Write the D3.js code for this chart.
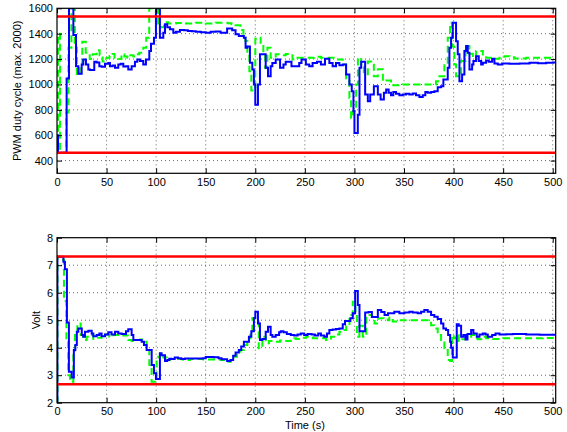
<!DOCTYPE html>
<html>
<head>
<meta charset="utf-8">
<script src="https://cdn.jsdelivr.net/npm/d3@7"></script>
<style>
  body { margin: 0; background: #fff; }
  svg { display: block; }
  text { font-family: "Liberation Sans", Arial, Helvetica, sans-serif; }
</style>
</head>
<body>
<div id="chart"></div>
<script>
const WIDTH = 567;
const HEIGHT = 432;

// time axis, shared by both panels
const timeTicks = [0, 50, 100, 150, 200, 250, 300, 350, 400, 450, 500];
const timeDomain = [0, 503];

// top panel: PWM duty cycle
const pwmTicks = [400, 600, 800, 1000, 1200, 1400, 1600];
const pwmDomain = [300, 1600];
const pwmLimits = [462, 1536];
const pwmMeasured = [[0,600],[1,462],[9.7,1047],[12.1,1600],[16.5,1390],[19.2,1144],[21.5,1084],[24.9,1158],[26.5,1197],[29.2,1158],[31.6,1118],[33.3,1113],[37.6,1179],[40,1172],[42.7,1144],[45,1139],[48.4,1163],[51.7,1170],[53.4,1144],[56.1,1150],[58.5,1131],[61.8,1158],[64.2,1163],[66.9,1142],[69.6,1144],[71.9,1118],[75.3,1144],[78.6,1179],[81,1197],[83.7,1184],[87,1158],[89.7,1197],[93.1,1263],[94.8,1321],[97.8,1368],[99.8,1600],[103.8,1368],[107.2,1408],[108.9,1474],[111.2,1450],[113.9,1434],[117.3,1408],[120,1415],[124,1430],[128,1428],[132,1422],[136,1420],[140,1415],[145,1412],[150,1408],[155,1415],[160,1418],[165,1408],[171.6,1440],[176.7,1427],[180.1,1395],[183.4,1381],[188.5,1368],[190.2,1290],[191.9,1300],[194.6,1171],[197,1118],[198.6,1000],[200,841],[202.7,1000],[204.7,1237],[210.5,1131],[212.8,1065],[215.5,1144],[217.2,1170],[220.6,1197],[225,1131],[228.4,1158],[230.7,1179],[236.5,1144],[244.3,1170],[246.6,1197],[251,1158],[254.4,1144],[257.8,1170],[262.2,1179],[266.2,1158],[270.3,1203],[274.7,1170],[278,1144],[281.4,1170],[284.8,1152],[288.2,1158],[291.6,1079],[294.9,1000],[297.3,947],[299,789],[300,617],[303.4,762],[305.1,1131],[306.8,1179],[310.8,920],[313.5,868],[315.9,920],[319.6,986],[323.6,920],[326.4,881],[329.7,934],[332,960],[334.5,934],[336.9,915],[339.2,941],[341.9,926],[345.3,915],[348.7,920],[352,926],[355.4,920],[358.8,928],[362.1,915],[365.5,902],[368.9,915],[371.5,941],[373.9,934],[377.3,941],[380.6,947],[384,978],[387.4,986],[389.7,1039],[394.1,1131],[395.8,1289],[397.5,1368],[399.2,1487],[402.5,1340],[404.2,1237],[405.9,1026],[408.6,1079],[410.9,1263],[412.6,1303],[414.3,1250],[416,1118],[418.7,1158],[420,1184],[422.7,1223],[425.4,1184],[427.8,1158],[429.5,1171],[432.8,1189],[435.5,1179],[438.9,1202],[441.2,1166],[444.6,1158],[449,1166],[456.4,1163],[466.5,1166],[476.6,1171],[485,1168],[493.4,1171],[500.2,1173],[503,1173]];
const pwmReference = [[0,462],[1,1400],[3,462],[9.4,780],[11.5,1290],[14.5,1600],[18,1290],[20,1074],[23,1130],[25.5,1337],[29,1250],[33,1200],[36,1237],[40,1270],[43,1230],[46,1180],[50,1210],[53,1225],[56,1240],[58,1210],[62,1200],[65,1237],[68,1220],[71,1210],[74,1230],[77,1220],[80,1237],[83,1250],[87,1290],[90,1368],[93,1600],[102,1480],[105,1450],[108,1490],[112,1480],[120,1485],[130,1480],[140,1487],[150,1480],[160,1487],[172,1482],[176,1475],[180,1466],[185,1430],[188,1400],[190,1342],[192,1237],[194,1105],[196,952],[200,1360],[202.7,1368],[205.4,1303],[208.1,1240],[210,1130],[212.2,1290],[215.5,1210],[220.6,1237],[225.7,1231],[230.7,1240],[237.5,1197],[242.6,1210],[251,1210],[259.5,1218],[266.2,1210],[273,1210],[281.4,1197],[288.2,1158],[291.6,1039],[294.9,894],[296.6,736],[298.3,790],[301.7,1000],[303.5,1210],[306.8,1140],[309.5,1080],[313.5,1180],[319.6,1065],[323.6,1120],[328.7,1026],[331.8,1031],[336.9,994],[348.7,1000],[382.3,1026],[385.7,1065],[390.7,1171],[394.1,1368],[396.5,1487],[398.5,1300],[400.8,1158],[402.5,1065],[407.6,1184],[412,1303],[416,1242],[419.4,1210],[422.7,1263],[429.5,1223],[432.8,1210],[439.6,1202],[446.3,1210],[451.3,1223],[456.4,1215],[461.4,1205],[473.2,1210],[503,1210]];

// bottom panel: voltage
const voltTicks = [2, 3, 4, 5, 6, 7, 8];
const voltDomain = [2, 8];
const voltLimits = [2.67, 7.32];
const voltMeasured = [[0,2],[0.4,7.31],[6.5,7.13],[8,6.85],[10,4.92],[12,3.13],[14.8,2.92],[17,3.92],[18.5,4.1],[20,4.58],[21.5,4.7],[25,4.46],[26.5,4.4],[28.2,4.58],[31.6,4.62],[35,4.52],[36.6,4.42],[40,4.46],[42.7,4.52],[45,4.42],[48.4,4.48],[51.7,4.56],[55,4.48],[58.5,4.58],[61.8,4.52],[65.2,4.5],[69.6,4.6],[71.9,4.67],[75.3,4.46],[77,4.28],[81,4.28],[85.4,4.22],[87.7,4.1],[90.4,3.92],[95.5,3.37],[97.8,3.07],[99.8,2.86],[103.8,3.8],[105.5,3.73],[108.9,3.52],[111.2,3.55],[113.2,3.6],[115.3,3.59],[118.7,3.64],[122,3.62],[125.4,3.59],[129,3.61],[140,3.61],[147,3.62],[150,3.66],[158,3.65],[163,3.62],[166,3.58],[171.6,3.52],[175,3.55],[177.7,3.71],[180.1,3.83],[183.4,3.92],[185.8,4.04],[188.5,4.22],[193.6,4.4],[196,4.6],[198.6,5.07],[200,5.31],[202.7,4.88],[204.7,4.28],[207.1,4.32],[210.5,4.58],[212.8,4.76],[215.5,4.46],[217.2,4.4],[220.6,4.46],[224,4.56],[225.7,4.6],[228.4,4.56],[231.8,4.5],[235.8,4.46],[239.2,4.44],[242.6,4.48],[245.9,4.52],[249.3,4.46],[252.7,4.5],[256.8,4.48],[260.1,4.44],[263.5,4.52],[266.2,4.44],[269.6,4.4],[272.3,4.52],[274.7,4.64],[278,4.66],[281.4,4.68],[284.8,4.7],[288.2,4.85],[290.5,4.97],[295.9,5.07],[298.3,5.25],[300.7,6.06],[303.4,5.55],[305.1,4.6],[310.8,5.28],[314.2,5.3],[317.6,5.12],[323.6,5.37],[327,5.3],[330.4,5.19],[333.8,5.25],[336.9,5.25],[340.2,5.31],[345.3,5.25],[350.3,5.28],[355.4,5.31],[358.8,5.28],[363.8,5.25],[367.2,5.31],[370.5,5.37],[373.9,5.31],[377.3,5.19],[380.6,5.13],[384,5.04],[387.4,4.88],[389.7,4.7],[392.4,4.64],[394.5,4.46],[396.5,4.22],[397.5,4.0],[399.2,3.64],[403.2,4.85],[405.2,4.8],[407.6,4.4],[409.9,4.46],[412,4.3],[414,4.5],[417.7,4.64],[420,4.52],[423.4,4.4],[426.1,4.48],[429.5,4.52],[432.2,4.48],[434.5,4.4],[438.9,4.46],[442.3,4.52],[446.3,4.48],[453,4.49],[459.8,4.5],[473.2,4.48],[486.7,4.47],[503,4.46]];
const voltReference = [[0,2],[0.5,7.31],[4.7,7.2],[7,5.7],[9.5,4.3],[11.4,3.0],[13.1,2.76],[16.5,3.9],[18.1,4.46],[20.5,4.88],[23.9,4.46],[26.5,4.28],[29.9,4.4],[33.3,4.46],[36.6,4.32],[40,4.36],[45,4.46],[48.4,4.48],[52.8,4.4],[56.8,4.46],[61.8,4.48],[66.9,4.44],[71.9,4.28],[75.3,4.24],[78.6,4.28],[83.7,4.3],[87,4.22],[90.4,3.92],[93.1,3.37],[95.4,2.76],[100.5,3.55],[102.2,3.67],[103.8,3.79],[107.2,3.64],[110.6,3.55],[113.9,3.59],[119,3.61],[122.3,3.59],[127.4,3.55],[134.1,3.59],[147.5,3.57],[161,3.58],[164.9,3.55],[171.6,3.49],[175,3.55],[178,3.67],[181.5,3.79],[184.8,3.92],[188.5,4.1],[191.9,4.34],[195,4.6],[197,5.07],[198.6,4.95],[203.5,3.98],[207.1,4.4],[210.5,4.16],[213.8,4.24],[220,4.22],[225,4.26],[230,4.24],[235.8,4.34],[241,4.32],[246.3,4.36],[251.2,4.4],[258,4.34],[266,4.34],[271.3,4.28],[276.3,4.4],[281.4,4.48],[284.8,4.58],[288.2,4.64],[291.6,4.8],[295,5.19],[298.3,5.67],[301,5.3],[302.5,4.4],[305,4.8],[308.5,4.4],[312,5.19],[317.6,5.13],[320.3,4.88],[324,5.07],[329.5,5.03],[333.8,5.0],[335.2,5.1],[338.6,4.95],[341.9,5.0],[372.2,5.0],[377.3,4.82],[380.6,4.7],[384,4.46],[387.4,4.28],[390.7,3.98],[394.1,3.55],[396.5,3.52],[398.5,4.46],[400.2,4.34],[402.5,4.46],[405.2,4.24],[408.6,4.31],[412.6,4.36],[417.7,4.46],[421,4.34],[424.4,4.31],[429.5,4.4],[432.8,4.34],[439.6,4.32],[450,4.34],[470,4.34],[490,4.35],[503,4.35]];

const LEFT = 57, RIGHT = 555.7;
const fmt = d3.format("d");

const svg = d3.select("#chart").append("svg")
    .attr("width", WIDTH)
    .attr("height", HEIGHT);

svg.append("rect").attr("width", WIDTH).attr("height", HEIGHT).attr("fill", "#fff");

function panel(id, top, bottom, yDomain, yTicks, limits, measured, reference, yLabel, labelX) {
    const x = d3.scaleLinear().domain(timeDomain).range([LEFT, RIGHT]);
    const y = d3.scaleLinear().domain(yDomain).range([bottom, top]);
    const g = svg.append("g");

    svg.append("clipPath").attr("id", id)
       .append("rect").attr("x", LEFT).attr("y", top)
       .attr("width", RIGHT - LEFT).attr("height", bottom - top);

    // dotted grid
    g.append("g").selectAll("line").data(timeTicks.filter(t => t > 0)).join("line")
       .attr("x1", d => x(d)).attr("x2", d => x(d))
       .attr("y1", top).attr("y2", bottom)
       .attr("stroke", "#000").attr("stroke-width", 0.6).attr("stroke-dasharray", "1,3");
    g.append("g").selectAll("line").data(yTicks.filter(v => v > yDomain[0] && v < yDomain[1])).join("line")
       .attr("x1", LEFT).attr("x2", RIGHT)
       .attr("y1", d => y(d)).attr("y2", d => y(d))
       .attr("stroke", "#000").attr("stroke-width", 0.6).attr("stroke-dasharray", "1,3");

    const line = d3.line().x(d => x(d[0])).y(d => y(d[1])).curve(d3.curveStepAfter);
    const plot = g.append("g").attr("clip-path", "url(#" + id + ")");

    plot.append("path").datum(reference)
       .attr("d", line).attr("fill", "none")
       .attr("stroke", "#00ff00").attr("stroke-width", 2)
       .attr("stroke-dasharray", "7,4");
    plot.append("path").datum(measured)
       .attr("d", line).attr("fill", "none")
       .attr("stroke", "#0000ff").attr("stroke-width", 2);
    plot.selectAll("line.limit").data(limits).join("line")
       .attr("class", "limit")
       .attr("x1", LEFT).attr("x2", RIGHT)
       .attr("y1", d => y(d)).attr("y2", d => y(d))
       .attr("stroke", "#ff0000").attr("stroke-width", 2.5);

    // axes with inward ticks on all four sides
    g.append("g").attr("transform", "translate(0," + bottom + ")")
       .call(d3.axisBottom(x).tickValues(timeTicks).tickFormat(fmt).tickSizeInner(-5).tickSizeOuter(0).tickPadding(5))
       .call(a => a.select(".domain").remove());
    g.append("g").attr("transform", "translate(0," + top + ")")
       .call(d3.axisTop(x).tickValues(timeTicks).tickSizeInner(-5).tickSizeOuter(0).tickFormat(""))
       .call(a => a.select(".domain").remove());
    g.append("g").attr("transform", "translate(" + LEFT + ",0)")
       .call(d3.axisLeft(y).tickValues(yTicks).tickFormat(fmt).tickSizeInner(-5).tickSizeOuter(0).tickPadding(4))
       .call(a => a.select(".domain").remove());
    g.append("g").attr("transform", "translate(" + RIGHT + ",0)")
       .call(d3.axisRight(y).tickValues(yTicks).tickSizeInner(-5).tickSizeOuter(0).tickFormat(""))
       .call(a => a.select(".domain").remove());
    g.selectAll(".tick text").attr("font-size", 11).attr("fill", "#000")
       .style("font-family", "'Liberation Sans', Arial, sans-serif");
    g.selectAll(".tick line").attr("stroke", "#000");

    g.append("rect").attr("x", LEFT).attr("y", top)
       .attr("width", RIGHT - LEFT).attr("height", bottom - top)
       .attr("fill", "none").attr("stroke", "#000").attr("stroke-width", 1.2);

    svg.append("text")
       .attr("transform", "translate(" + labelX + "," + ((top + bottom) / 2) + ") rotate(-90)")
       .attr("text-anchor", "middle")
       .attr("dy", "0.35em")
       .attr("font-size", 11)
       .text(yLabel);

    return x;
}

panel("clipTop", 8.3, 173.3, pwmDomain, pwmTicks, pwmLimits, pwmMeasured, pwmReference,
      "PWM duty cycle (max. 2000)", 17);
const xb = panel("clipBottom", 237.7, 402.7, voltDomain, voltTicks, voltLimits, voltMeasured, voltReference,
      "Volt", 36);

svg.append("text")
   .attr("x", xb(250)).attr("y", 429)
   .attr("text-anchor", "middle")
   .attr("font-size", 11)
   .text("Time (s)");
</script>
</body>
</html>
